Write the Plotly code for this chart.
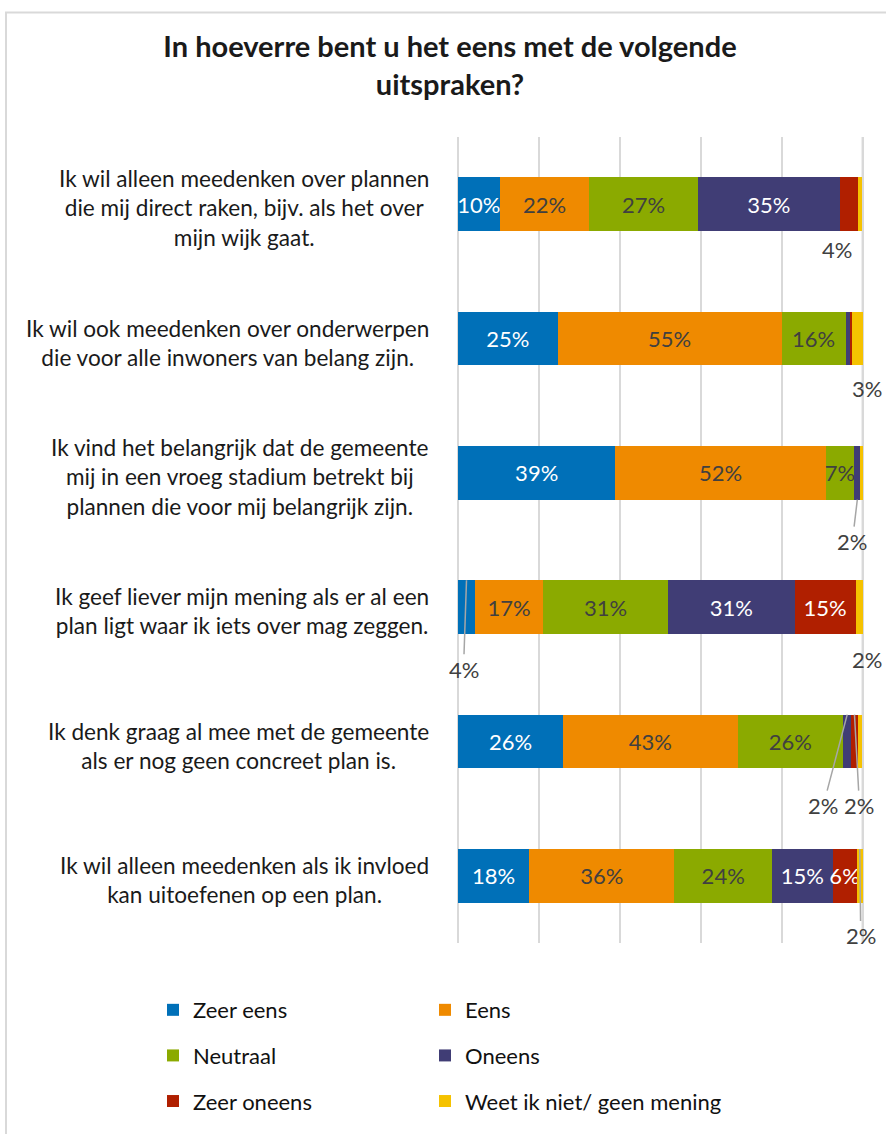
import plotly.graph_objects as go

statements = [
    "Ik wil alleen meedenken over plannen<br>die mij direct raken, bijv. als het over<br>mijn wijk gaat.",
    "Ik wil ook meedenken over onderwerpen<br>die voor alle inwoners van belang zijn.",
    "Ik vind het belangrijk dat de gemeente<br>mij in een vroeg stadium betrekt bij<br>plannen die voor mij belangrijk zijn.",
    "Ik geef liever mijn mening als er al een<br>plan ligt waar ik iets over mag zeggen.",
    "Ik denk graag al mee met de gemeente<br>als er nog geen concreet plan is.",
    "Ik wil alleen meedenken als ik invloed<br>kan uitoefenen op een plan.",
]

answers = ["Zeer eens", "Eens", "Neutraal", "Oneens", "Zeer oneens",
           "Weet ik niet/ geen mening"]

# percentages per statement (rij 1..6)
zeer_eens = [10.3, 24.6, 38.9, 4.2, 26.0, 17.6]
eens = [22.2, 55.4, 52.0, 16.8, 43.1, 35.9]
neutraal = [26.7, 15.8, 7.0, 30.9, 26.1, 24.1]
oneens = [35.2, 1.0, 1.6, 31.3, 2.0, 15.0]
zeer_oneens = [4.4, 0.6, 0.1, 15.1, 1.6, 5.9]
weet_niet = [1.1, 2.6, 0.4, 1.7, 1.1, 1.6]

series = [zeer_eens, eens, neutraal, oneens, zeer_oneens, weet_niet]
colors = ["#0070b8", "#ef8a00", "#8baa00", "#403d75", "#b01f00", "#f5c200"]
text_colors = ["white", "#404040", "#404040", "white", "white", "#404040"]
legend_ids = ["legend", "legend2", "legend", "legend2", "legend", "legend2"]

FONT = "Lato"
W, H = 886, 1134
ML, MR, MT, MB = 457, 21, 137, 174
PW = W - ML - MR
PH = H - MT - MB

fig = go.Figure()
rows = list(range(len(statements)))

for name, values, color, tcolor, leg in zip(answers, series, colors, text_colors, legend_ids):
    fig.add_trace(
        go.Bar(
            y=rows,
            x=values,
            orientation="h",
            name=name,
            width=0.4,
            marker=dict(color=color, line=dict(width=0)),
            text=[f"{v:.0f}%" if v >= 5 else "" for v in values],
            textposition="inside",
            insidetextanchor="middle",
            textangle=0,
            textfont=dict(family=FONT, size=22, color=tcolor),
            legend=leg,
            legendgroup=name,
            hoverinfo="skip",
        )
    )

# labels van de stellingen
for i, s in enumerate(statements):
    fig.add_annotation(
        x=-26 / PW, xref="paper", y=i, yref="y", yshift=-4,
        text=s, showarrow=False,
        xanchor="right", yanchor="middle", align="center",
        font=dict(family=FONT, size=22.6, color="#1a1a1a"),
    )

# kleine segmenten: label buiten de balk (rij, serie, rand, dx, dy, lijn)
callouts = [
    (0, 4, "bottom", -12, 18, False),
    (1, 5, "bottom", 10, 23, False),
    (2, 3, "bottom", -5, 42, True),
    (3, 0, "top", -3, 89, True),
    (3, 5, "bottom", 8, 25, False),
    (4, 3, "top", -24, 91, True),
    (4, 4, "top", 5, 91, True),
    (5, 5, "top", 1, 87, True),
]
for row, k, edge, dx, dy, line in callouts:
    start = sum(series[j][row] for j in range(k))
    mid = start + series[k][row] / 2
    fig.add_annotation(
        x=mid, y=row + (0.2 if edge == "bottom" else -0.2),
        xref="x", yref="y",
        text=f"{series[k][row]:.0f}%",
        showarrow=True, arrowhead=0, arrowwidth=1.5, standoff=0,
        arrowcolor="#a6a6a6" if line else "rgba(0,0,0,0)",
        ax=dx, ay=dy,
        font=dict(family=FONT, size=22, color="#404040"),
    )

# kader rond de grafiek
fig.add_shape(
    type="rect", xref="paper", yref="paper",
    x0=(6 - ML) / PW, x1=(W + 40 - ML) / PW,
    y0=-(H + 40 - MT - PH) / PH, y1=(MT + PH - 10) / PH,
    line=dict(color="#d9d9d9", width=2), fillcolor="rgba(0,0,0,0)",
    layer="below",
)
# rasterlijn op 100%
fig.add_shape(
    type="line", xref="x", yref="paper", x0=100, x1=100, y0=0, y1=1,
    line=dict(color="#d9d9d9", width=2), layer="below",
)

legend_style = dict(
    orientation="v", yanchor="top", xanchor="left",
    y=-47 / PH, tracegroupgap=14,
    font=dict(family=FONT, size=22, color="#111111"),
    bgcolor="rgba(0,0,0,0)", itemclick=False, itemdoubleclick=False,
)

fig.update_layout(
    width=W, height=H,
    margin=dict(l=ML, r=MR, t=MT, b=MB),
    barmode="stack",
    title=dict(
        text="<b>In hoeverre bent u het eens met de volgende<br>uitspraken?</b>",
        x=450 / W, xanchor="center", xref="container",
        y=1 - 57 / H, yanchor="top", yref="container",
        font=dict(family=FONT, size=29, color="#1a1a1a"),
    ),
    xaxis=dict(
        range=[-0.25, 100.6], dtick=20, showgrid=True, gridcolor="#d9d9d9",
        gridwidth=2, showticklabels=False, zeroline=True,
        zerolinecolor="#d9d9d9", zerolinewidth=2, showline=False,
        fixedrange=True,
    ),
    yaxis=dict(
        range=[5.5, -0.5], showgrid=False, showticklabels=False,
        zeroline=False, fixedrange=True,
    ),
    legend=dict(x=(153 - ML) / PW, **legend_style),
    legend2=dict(x=(425 - ML) / PW, **legend_style),
    uniformtext=dict(minsize=22, mode="show"),
    paper_bgcolor="white",
    plot_bgcolor="white",
    showlegend=True,
)

fig.write_html(
    "out.html",
    config={"displayModeBar": False},
    post_script="document.body.style.margin = '0';",
)
